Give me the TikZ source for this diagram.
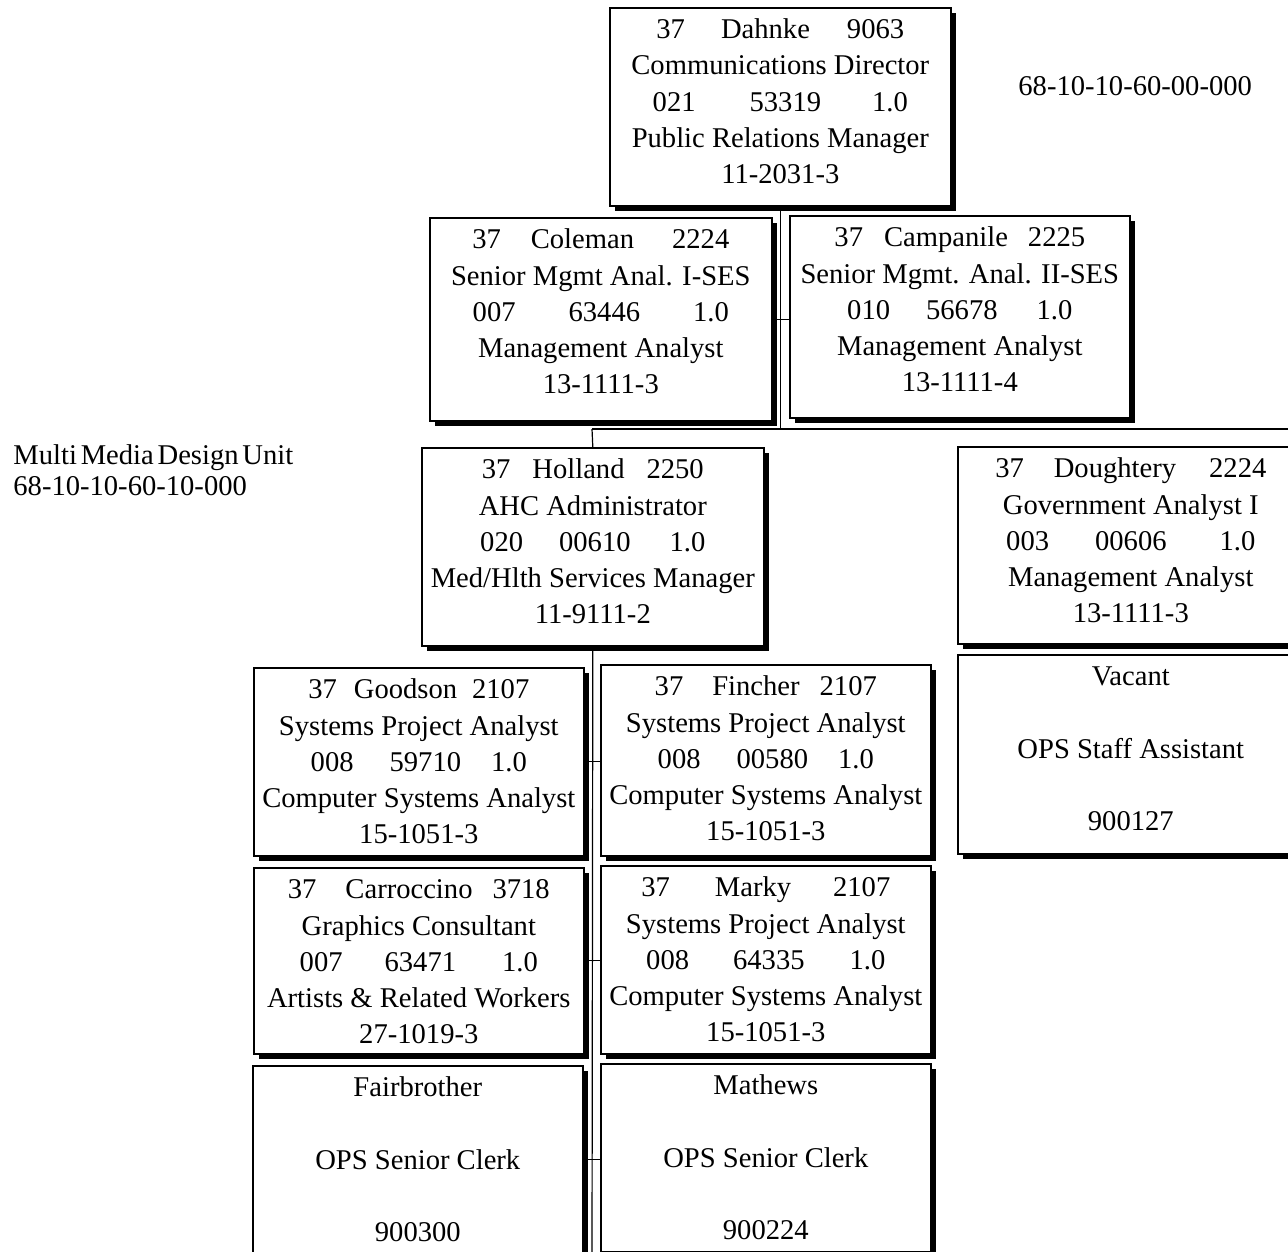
\documentclass[tikz,border=0pt]{standalone}
\usepackage{fontspec}
\setmainfont{Liberation Serif}
\usetikzlibrary{shadows}

% Box body: fixed-size parbox, lines set from the top with a fixed first baseline
\newcommand{\cellbody}[3]{\parbox[c][#2][t]{#1}{\centering\rule{0pt}{15.5pt}#3}}

\tikzset{
  orgfont/.style={font=\fontsize{14.3pt}{18.1pt}\selectfont},
  posbox/.style={draw=black, line width=0.8pt, fill=white, inner sep=0pt,
    anchor=north west, orgfont,
    drop shadow={shadow xshift=2.6pt, shadow yshift=-2.6pt, fill=black, opacity=1}},
  link/.style={draw=black, line width=0.6pt},
  lbl/.style={inner sep=0pt, orgfont}
}

\begin{document}
\begin{tikzpicture}[x=0.5pt, y=-0.5pt]
  \fill[white] (0,0) rectangle (1288,1251);
  \clip (0,0) rectangle (1288,1251);

  % ---- positions ----
  \node[posbox] (dahnke) at (609,7) {\cellbody{170.5pt}{99pt}{%
    37\hspace{18pt}Dahnke\hspace{18.5pt}9063\\
    Communications Director\\
    021\hspace{27pt}53319\hspace{25.5pt}1.0\\
    Public Relations Manager\\
    11-2031-3}};

  \node[posbox] (coleman) at (429,217) {\cellbody{171pt}{101.5pt}{%
    37\hspace{15pt}Coleman\hspace{19pt}2224\\
    Senior Mgmt Anal. I-SES\\
    007\hspace{26.5pt}63446\hspace{26.5pt}1.0\\
    Management Analyst\\
    13-1111-3}};

  \node[posbox] (campanile) at (789,215) {\cellbody{170pt}{101pt}{%
    37\hspace{10.5pt}Campanile\hspace{10pt}2225\\
    Senior Mgmt. Anal. II-SES\\
    010\hspace{18pt}56678\hspace{19.5pt}1.0\\
    Management Analyst\\
    13-1111-4}};

  \node[posbox] (holland) at (421,447) {\cellbody{171pt}{99pt}{%
    37\hspace{11pt}Holland\hspace{11pt}2250\\
    AHC Administrator\\
    020\hspace{18pt}00610\hspace{19.5pt}1.0\\
    Med/Hlth Services Manager\\
    11-9111-2}};

  \node[posbox] (doughtery) at (957,446) {\cellbody{173pt}{98.5pt}{%
    37\hspace{15pt}Doughtery\hspace{16.5pt}2224\\
    Government Analyst I\\
    003\hspace{23pt}00606\hspace{26.5pt}1.0\\
    Management Analyst\\
    13-1111-3}};

  \node[posbox] (vacant) at (957,654) {\cellbody{173pt}{99.5pt}{%
    Vacant\\ \mbox{}\\ OPS Staff Assistant\\ \mbox{}\\ 900127}};

  \node[posbox] (goodson) at (253,667) {\cellbody{165pt}{94pt}{%
    37\hspace{8.5pt}Goodson\hspace{7.5pt}2107\\
    Systems Project Analyst\\
    008\hspace{18pt}59710\hspace{15pt}1.0\\
    Computer Systems Analyst\\
    15-1051-3}};

  \node[posbox] (fincher) at (600,664) {\cellbody{165pt}{95.5pt}{%
    37\hspace{14.5pt}Fincher\hspace{10pt}2107\\
    Systems Project Analyst\\
    008\hspace{18pt}00580\hspace{15pt}1.0\\
    Computer Systems Analyst\\
    15-1051-3}};

  \node[posbox] (carroccino) at (253,867) {\cellbody{165pt}{93pt}{%
    37\hspace{14.5pt}Carroccino\hspace{10pt}3718\\
    Graphics Consultant\\
    007\hspace{21pt}63471\hspace{23pt}1.0\\
    Artists \& Related Workers\\
    27-1019-3}};

  \node[posbox] (marky) at (600,865) {\cellbody{165pt}{94pt}{%
    37\hspace{22.5pt}Marky\hspace{21pt}2107\\
    Systems Project Analyst\\
    008\hspace{22pt}64335\hspace{22.5pt}1.0\\
    Computer Systems Analyst\\
    15-1051-3}};

  \node[posbox] (fairbrother) at (252,1065) {\cellbody{165pt}{94pt}{%
    Fairbrother\\ \mbox{}\\ OPS Senior Clerk\\ \mbox{}\\ 900300}};

  \node[posbox] (mathews) at (600,1063) {\cellbody{165pt}{94pt}{%
    Mathews\\ \mbox{}\\ OPS Senior Clerk\\ \mbox{}\\ 900224}};

  % ---- unit labels ----
  \node[lbl, anchor=west] (unitcode) at (1018,86) {68-10-10-60-00-000};
  \node[lbl, anchor=north west, align=left,
        font=\fontsize{14.3pt}{15.5pt}\selectfont] (unitname) at (13,444)
        {Multi\hspace{1.9pt}Media\hspace{1.9pt}Design\hspace{1.9pt}Unit\\68-10-10-60-10-000};

  % ---- connectors ----
  \coordinate (busL) at (592,429);
  \coordinate (busR) at (1300,429);
  \coordinate (stemEnd) at (592,1260);
  \draw[link] (dahnke.south) -- (dahnke.south |- busL);
  \draw[link] (busL) -- (busR);
  \draw[link] (busL) -- (holland.north);
  \draw[link] (coleman.east) -- (coleman.east -| campanile.west);
  \draw[link] (holland.south) -- (stemEnd);
  \draw[link] (goodson.east) -- (goodson.east -| fincher.west);
  \draw[link] (carroccino.east) -- (carroccino.east -| marky.west);
  \draw[link] (fairbrother.east) -- (fairbrother.east -| mathews.west);
\end{tikzpicture}
\end{document}
